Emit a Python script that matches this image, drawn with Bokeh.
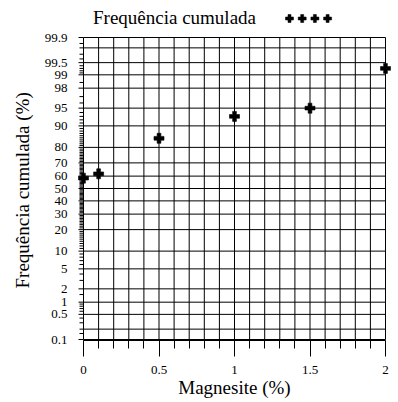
from statistics import NormalDist
from bokeh.plotting import figure
from bokeh.models import Range1d, FixedTicker, Legend, LegendItem, Title
from bokeh.embed import file_html
from bokeh.resources import INLINE

# ---------------- data ----------------
magnesite = [0.0, 0.1, 0.5, 1.0, 1.5, 2.0]          # Magnesite (%)
freq_cum = [58.4, 61.8, 84.8, 93.0, 95.0, 99.3]      # Frequência cumulada (%)

x_major_ticks = [0, 0.5, 1, 1.5, 2]
x_tick_labels = ["0", "0.5", "1", "1.5", "2"]
x_minor_ticks = [0, 0.1, 0.2, 0.3, 0.4, 0.5, 0.6, 0.7, 0.8, 0.9, 1.0,
                 1.1, 1.2, 1.3, 1.4, 1.5, 1.6, 1.7, 1.8, 1.9, 2.0]

y_label_pcts = [0.1, 0.5, 1, 2, 5, 10, 20, 30, 40, 50, 60, 70, 80, 90,
                95, 98, 99, 99.5, 99.9]
y_label_texts = ["0.1", "0.5", "1", "2", "5", "10", "20", "30", "40", "50",
                 "60", "70", "80", "90", "95", "98", "99", "99.5", "99.9"]
y_grid_pcts = [0.1, 0.2, 0.5, 1, 2, 5, 10, 20, 30, 40, 50, 60, 70, 80, 90,
               95, 98, 99, 99.5, 99.8, 99.9]
y_minor_pcts = ([0.15, 0.2, 0.3, 0.4, 0.6, 0.7, 0.8, 0.9, 1.5, 3, 4, 6, 7, 8, 9]
                + [v for v in range(11, 90) if v % 10 != 0]
                + [91, 92, 93, 94, 96, 97, 98.5, 99.1, 99.2, 99.3, 99.4,
                   99.6, 99.7, 99.8, 99.85])

title_text = "Frequência cumulada"
x_title = "Magnesite (%)"
y_title = "Frequência cumulada (%)"

# ---------------- probability scale ----------------
nd = NormalDist()
def probit(p):
    return nd.inv_cdf(p / 100.0)

z_lo = probit(y_grid_pcts[0])
z_hi = probit(y_grid_pcts[-1])
z_vals = [probit(v) for v in freq_cum]

# layout (pixels)
W, H = 398, 402
X_SPAN_PX = 302            # pixels between x=0 and x=2
Y_SPAN_PX = 302            # pixels between 0.1 % and 99.9 %
LEFT = 83                  # x=0 position in px
TOP = 37                   # 99.9% position in px
PAD_L, PAD_R = 8, 8        # frame padding: edge markers / y ticks stay visible
PAD_T, PAD_B = 33, 1       # top padding holds the title + legend markers

px_x = X_SPAN_PX / (x_major_ticks[-1] - x_major_ticks[0])
px_z = Y_SPAN_PX / (z_hi - z_lo)

x_start = x_major_ticks[0] - PAD_L / px_x
x_end = x_major_ticks[-1] + PAD_R / px_x
y_start = z_lo - PAD_B / px_z
y_end = z_hi + PAD_T / px_z

frame_left = LEFT - PAD_L
frame_top = TOP - PAD_T
frame_w = X_SPAN_PX + PAD_L + PAD_R
frame_h = Y_SPAN_PX + PAD_T + PAD_B
frame_bottom = frame_top + frame_h

def fx(px):   # page px (x) -> data x
    return x_major_ticks[0] + (px - LEFT) / px_x

def fy(py):   # page px (y from top) -> data z
    return z_hi - (py - TOP) / px_z

FONT = "Liberation Serif"

p = figure(width=W, height=H, output_backend="svg", toolbar_location=None,
           x_range=Range1d(x_start, x_end), y_range=Range1d(y_start, y_end),
           min_border_left=frame_left, min_border_right=W - frame_left - frame_w,
           min_border_top=frame_top, min_border_bottom=H - frame_bottom)
p.outline_line_color = None
p.xgrid.visible = False
p.ygrid.visible = False
p.background_fill_color = "white"
p.border_fill_color = "white"

# ---------------- grid (probability paper) ----------------
yg = [probit(v) for v in y_grid_pcts]
p.segment(x0=[x_major_ticks[0]] * len(yg), y0=yg,
          x1=[x_major_ticks[-1]] * len(yg), y1=yg,
          line_color="black", line_width=1)
p.segment(x0=x_minor_ticks, y0=[z_lo] * len(x_minor_ticks),
          x1=x_minor_ticks, y1=[z_hi] * len(x_minor_ticks),
          line_color="black", line_width=1)

# y-axis tick marks at x = 0 (drawn inside the padded frame)
yz_labels = [probit(v) for v in y_label_pcts]
yz_minor = [probit(v) for v in y_minor_pcts]
p.segment(x0=[x_major_ticks[0] - 5 / px_x] * len(yz_labels), y0=yz_labels,
          x1=[x_major_ticks[0]] * len(yz_labels), y1=yz_labels,
          line_color="black", line_width=1)
p.segment(x0=[x_major_ticks[0] - 4 / px_x] * len(yz_minor), y0=yz_minor,
          x1=[x_major_ticks[0]] * len(yz_minor), y1=yz_minor,
          line_color="black", line_width=1)

# ---------------- data ----------------
r = p.scatter(magnesite, z_vals, marker="plus",
              size=10, fill_color="black", line_color="black", line_width=0.6)
# invisible twin, used only as the (empty) glyph of the legend's entry
r_blank = p.scatter(magnesite, z_vals, marker="plus", size=10,
                    fill_alpha=0, line_alpha=0)

# ---------------- axes ----------------
xa = p.xaxis[0]
xa.ticker = FixedTicker(ticks=x_major_ticks, minor_ticks=x_minor_ticks)
xa.major_label_overrides = {float(t): s for t, s in zip(x_major_ticks, x_tick_labels)}
xa.bounds = (x_major_ticks[0], x_major_ticks[-1])
xa.major_tick_in = 0
xa.minor_tick_in = 0
xa.major_tick_out = 16
xa.minor_tick_out = 8
xa.major_label_standoff = 9
xa.major_label_text_font = FONT
xa.major_label_text_font_size = "13px"
xa.major_label_text_color = "black"
xa.axis_line_color = "black"
xa.major_tick_line_color = "black"
xa.minor_tick_line_color = "black"
xa.axis_label = x_title
xa.axis_label_text_font = FONT
xa.axis_label_text_font_size = "19px"
xa.axis_label_text_font_style = "normal"
xa.axis_label_text_color = "black"
xa.axis_label_standoff = 0

ya = p.yaxis[0]
ya.ticker = FixedTicker(ticks=yz_labels)
ya.major_label_overrides = {t: s for t, s in zip(yz_labels, y_label_texts)}
ya.axis_line_color = None
ya.major_tick_line_color = None
ya.minor_tick_line_color = None
ya.major_tick_in = 0
ya.major_tick_out = 0
ya.minor_tick_in = 0
ya.minor_tick_out = 0
ya.major_label_standoff = 8
ya.major_label_text_font = FONT
ya.major_label_text_font_size = "13px"
ya.major_label_text_color = "black"

# y title (vertical), placed in the left panel so it is not clipped
p.add_layout(Title(text=y_title, align="left", offset=frame_bottom - 288,
                   standoff=18,
                   text_font=FONT, text_font_size="19px",
                   text_font_style="normal", text_color="black"), "left")

# ---------------- legend: "Frequência cumulada" then four markers ----------------
GLYPH = 24
legend = Legend(items=[LegendItem(label=title_text, renderers=[r_blank])],
                orientation="horizontal",
                location=(93 - GLYPH - frame_left, frame_bottom - 30),
                glyph_width=GLYPH, glyph_height=GLYPH, label_width=1, label_height=1,
                label_standoff=0, spacing=0, padding=0, margin=0,
                border_line_color=None, background_fill_alpha=0,
                label_text_font=FONT, label_text_font_size="19px",
                label_text_color="black")
p.add_layout(legend)

# legend sample markers (four crosses to the right of the legend text)
LEG_X0, LEG_STEP, LEG_Y = 289, 12.7, 18
leg_x = [fx(LEG_X0 + i * LEG_STEP) for i in range(4)]
leg_y = [fy(LEG_Y)] * 4
p.scatter(leg_x, leg_y, marker="plus", size=8,
          fill_color="black", line_color="black", line_width=0.5)

open("out.html", "w").write(file_html(p, INLINE))
